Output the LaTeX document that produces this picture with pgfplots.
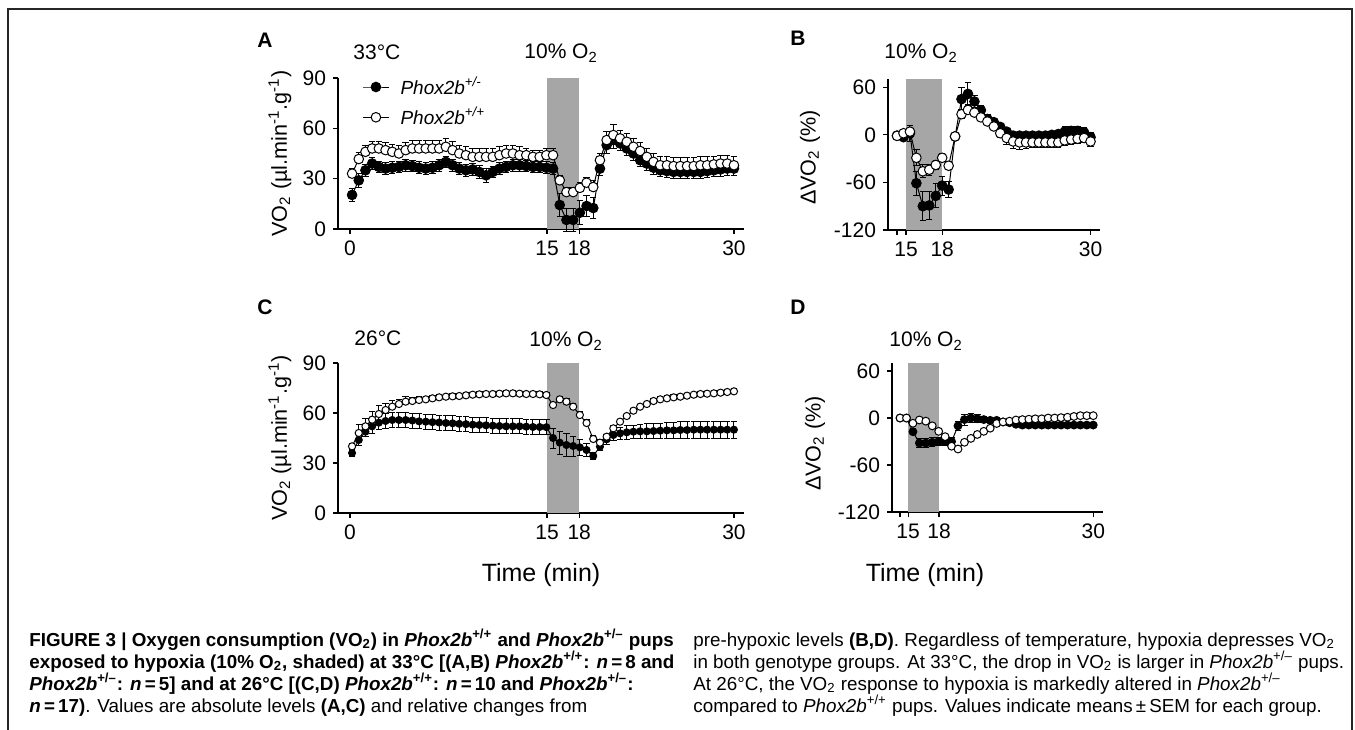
\documentclass[border=0pt]{standalone}
\usepackage{fontspec}
\setmainfont{Liberation Sans}
\usepackage{pgfplots}
\usepackage{pgfplotstable}
\pgfplotsset{compat=1.18}

% panel A: 33 C absolute VO2 (i = sample index)
\pgfplotstableread{
i f fe o oe
0 20.3 4 33 3
1 29 4 41.7 4
2 35 3.5 46 4
3 39 3.5 48 4
4 37 3.5 48 4
5 36 3.5 47 4.5
6 36.5 3.5 46 4.5
7 37 3.5 45 4.5
8 38 3.5 47 4.5
9 37.5 3.5 48 4.5
10 36.5 3.5 48 4.5
11 36 3.5 48 4.5
12 36.5 3.5 48 4.5
13 38 3.5 48 5
14 40 3.5 49 5
15 38 3.5 47 5
16 36 3.5 45 5
17 35 3.5 44 5
18 35.5 3.5 43 5
19 34 4 43 5
20 32 4 43 5
21 34 3.5 43 5
22 36 3.5 44 5
23 37 3.5 45 5
24 38 3.5 45 5
25 38 3.5 44 5
26 37.5 3.5 44 4
27 37 3.5 43 4
28 37 3.5 43 4
29 36.5 3.5 44 4
30 36 3.5 44 4
31 14.3 7 29 3
32 5.4 7 22 3
33 5.4 7 22 3
34 9.7 7 24.5 3
35 13.7 6 27.6 3
36 12.5 6 25 4
37 36 4 41 4
38 50 5 53 5
39 53 5 56 6
40 51 4 54 5
41 48 4 52 5
42 45 4 49 5
43 41 4 46.5 5
44 39 4 43 5
45 36.5 4 40 5
46 35 4 38 5
47 34.5 4 38 5
48 34 4 37.5 5
49 34 4 37.5 5
50 34 4 37.5 5
51 34 4 37.5 5
52 34 4 38 5
53 34.5 4 38 5
54 35 4 38.5 5
55 35.5 4 39 5
56 36 4 39 5
57 36 4 38 5
}\tabA

% panel B: 33 C relative change (%)
\pgfplotstableread{
i f fe o oe
0 -1 3 -1.3 3
1 -3 4 2 4
2 2 10 4 8
3 -61 15 -29 10
4 -90 18 -46 8
5 -89 18 -44 7
6 -77 15 -38 6
7 -64 12 -29 5
8 -69 10 -39 5
9 -2 5 -2 4
10 45 15 26 6
11 51.6 14 31.4 5
12 42 8 28 4
13 31 6 22 4
14 20 5 16.8 4
15 16 4 10.5 4
16 10 4 2 5
17 4 4 -4 8
18 -1 4 -8.4 9
19 -1 4 -9.6 9
20 -1 4 -9.6 8
21 -1 4 -9.6 7
22 -1 4 -9.6 7
23 -1 4 -9.6 7
24 0 4 -9.6 7
25 1 5 -9.6 7
26 4 6 -7 6
27 5 6 -6 6
28 5 6 -5 6
29 3 6 -4 6
30 -3 6 -8.4 6
}\tabB

% panel C: 26 C absolute VO2
\pgfplotstableread{
i f fe o oe
0 36 2 40 2
1 43.8 3 48 5
2 48.8 3 52 5
3 52 4 56 5
4 54.2 4 59.4 5
5 55.2 4.5 61.8 4
6 55.8 4.5 63.8 4
7 55.8 4.5 65.4 3
8 55.8 4.5 66.8 3
9 55.5 4.5 67.2 2
10 55 4.5 67.8 2
11 54.8 4.5 68.2 2
12 54.5 4.5 68.8 1.5
13 54.3 4.5 69.4 1.5
14 54 4.5 69.8 1.5
15 53.8 4.5 70 1.5
16 53.5 4.5 70.2 1.5
17 53.3 4.5 70.6 1.5
18 53 4.5 71 1.5
19 52.8 4.5 71.2 1.5
20 52.6 4.5 71.4 1.5
21 52.4 4.5 71.4 1.5
22 52.2 4.5 71.6 1.5
23 52 4.5 71.8 1.5
24 52 4.5 71.8 1.5
25 52 4.5 71.6 1.5
26 51.8 4.5 71.4 1.5
27 51.6 4.5 71.4 1.5
28 51.6 4.5 71.2 1.5
29 51.5 4.5 70.8 1.5
30 45 6 64.8 1.5
31 42.2 7 68.2 2
32 40.8 7 66.8 2
33 40.2 6 63.8 2
34 39.4 5 58.8 2
35 37.8 4 54 2
36 34.2 2 44.4 2
37 39.8 2 42.2 2
38 44.2 3 45.8 1.5
39 46.8 3 50.8 1.5
40 47.8 3.5 54.8 1.5
41 48.4 4 58.2 1.5
42 48.8 4 61.4 1.5
43 49 4 63.8 1.5
44 49 4.5 65.4 1.5
45 49.2 4.5 67.2 1.5
46 49.4 4.5 68.2 1.5
47 49.6 5 68.8 1.5
48 49.6 5 69.4 1.5
49 49.8 5 69.8 1.5
50 49.8 5 70.4 1.5
51 50 5 71 1.5
52 50 5 71.4 1.5
53 50 5 71.6 1.5
54 50 5 71.8 1.5
55 50 5 72.2 1.5
56 50 5 72.6 1.5
57 50 5 73 1.5
}\tabC

% panel D: 26 C relative change (%)
\pgfplotstableread{
i f fe o oe
0 0 1 0 1
1 0 1 0 1
2 -17.5 4 -6.7 2
3 -32 6 -2.5 2
4 -32 6 -4 2
5 -31 6 -10 2
6 -30 5 -17 2
7 -30 5 -23.8 2
8 -30 5 -36 2
9 -10 6 -39.6 2
10 -2 7 -31 2
11 0 6 -26 2
12 -1 5 -21 2
13 -2 4 -17 2
14 -3 3 -13 2
15 -3 3 -7 2
16 -5 3 -5 1
17 -6 3 -4 1
18 -8 2 -2.5 1
19 -9 2 -2 1
20 -9 2 -1.5 1
21 -9 2 -1 1
22 -9 2 -1 1
23 -9 2 0 1
24 -9 2 0 1
25 -9 2 0.5 1
26 -9 2 1 1
27 -9 2 2 1
28 -9 2 3 1
29 -9 2 3 1
30 -9 2 3 1
}\tabD

\newcommand{\tk}{\fontsize{10.5}{11}\selectfont}
\newcommand{\yl}{\fontsize{10.8}{11}\selectfont}
\newcommand{\cp}{\fontsize{9.4}{11}\selectfont}
\newcommand{\pb}{\textit{Phox2b}}
\newcommand{\Otwo}{O\textsubscript{2}}

\pgfplotsset{
  panel/.style={
    scale only axis, anchor=south west,
    axis x line*=bottom, axis y line*=left,
    axis line style={line width=0.6pt},
    tick align=outside, major tick length=2.5pt,
    tick style={black, line width=0.6pt},
    tick label style={font=\tk},
    /pgf/number format/assume math mode=true,
    clip=false,
  },
  filled/.style={black, line width=0.5pt, mark=*, mark size=#1,
    mark options={solid, fill=black, line width=0.5pt},
    error bars/y dir=both, error bars/y explicit,
    error bars/error bar style={line width=0.5pt},
    error bars/error mark options={rotate=90, mark size=1.6pt, line width=0.5pt}},
  open/.style={black, line width=0.5pt, mark=*, mark size=#1,
    mark options={solid, fill=white, line width=0.5pt},
    error bars/y dir=plus, error bars/y explicit,
    error bars/error bar style={line width=0.5pt},
    error bars/error mark options={rotate=90, mark size=1.6pt, line width=0.5pt}},
  band/.style={fill=gray!70, draw=none, forget plot},
}

\begin{document}
\begin{tikzpicture}[x=0.5pt,y=0.5pt]
\useasboundingbox (0,0) rectangle (1355,729);
\draw[line width=1pt, black!85] (8,-5) -- (8,720) -- (1352,720) -- (1352,-5);

% ---- A ----
\begin{axis}[panel, at={(169pt,250pt)}, width=203pt, height=75.5pt,
  xmin=-2.1, xmax=58.5, ymin=0, ymax=90,
  xtick={-0.3,29.1,33.9,57}, xticklabels={0,15,18,30},
  ytick={0,30,60,90},
  ylabel={VO\textsubscript{2} (µl.min\textsuperscript{-1}.g\textsuperscript{-1})},
  every axis y label/.style={at={(axis description cs:-0.143,0.5)}, rotate=90, anchor=center, font=\yl},
  legend cell align=left,
  legend style={draw=none, fill=none, at={(axis description cs:0.059,1.03)}, anchor=north west,
    inner sep=0pt, row sep=2pt, font=\fontsize{9.5}{10}\selectfont\itshape, nodes={inner sep=1.5pt},
    /tikz/every odd column/.append style={column sep=4pt}},
  legend image code/.code={\draw[mark repeat=2,mark phase=2] plot coordinates {(0cm,0cm) (0.23cm,0cm) (0.46cm,0cm)};},
]
\addplot[band] coordinates {(29.1,0) (29.1,90) (33.9,90) (33.9,0)} -- cycle;
\addplot[filled=2.4pt] table[x=i, y=f, y error=fe] {\tabA};
\addlegendentry{Phox2b\textsuperscript{+/-}}
\addplot[open=2.4pt] table[x=i, y=o, y error=oe] {\tabA};
\addlegendentry{Phox2b\textsuperscript{+/+}}
\end{axis}

% ---- B ----
\begin{axis}[panel, at={(444pt,249.5pt)}, width=106.1pt, height=75.35pt,
  xmin=-1.4, xmax=31.5, ymin=-120, ymax=70,
  xtick={0,1.4,7,30}, xticklabels={,15,18,30},
  ytick={-120,-60,0,60},
  ylabel={ΔVO\textsubscript{2} (\%)},
  every axis y label/.style={at={(axis description cs:-0.368,0.48)}, rotate=90, anchor=center, font=\yl},
]
\addplot[band] coordinates {(1.4,-120) (1.4,70) (7,70) (7,-120)} -- cycle;
\addplot[filled=2.4pt] table[x=i, y=f, y error=fe] {\tabB};
\addplot[open=2.4pt, error bars/y dir=both] table[x=i, y=o, y error=oe] {\tabB};
\end{axis}

% ---- C ----
\begin{axis}[panel, at={(169pt,108pt)}, width=203pt, height=75pt,
  xmin=-2.1, xmax=58.5, ymin=0, ymax=90,
  xtick={-0.3,29.1,33.9,57}, xticklabels={0,15,18,30},
  ytick={0,30,60,90},
  ylabel={VO\textsubscript{2} (µl.min\textsuperscript{-1}.g\textsuperscript{-1})},
  every axis y label/.style={at={(axis description cs:-0.143,0.5)}, rotate=90, anchor=center, font=\yl},
]
\addplot[band] coordinates {(29.1,0) (29.1,90) (33.9,90) (33.9,0)} -- cycle;
\addplot[filled=1.75pt] table[x=i, y=f, y error=fe] {\tabC};
\addplot[open=1.8pt] table[x=i, y=o, y error=oe] {\tabC};
\end{axis}

% ---- D ----
\begin{axis}[panel, at={(446pt,108.5pt)}, width=105.45pt, height=74.4pt,
  xmin=-1.25, xmax=31.5, ymin=-120, ymax=70,
  xtick={0,1.25,6.05,30}, xticklabels={,15,18,30},
  ytick={-120,-60,0,60},
  ylabel={ΔVO\textsubscript{2} (\%)},
  every axis y label/.style={at={(axis description cs:-0.365,0.46)}, rotate=90, anchor=center, font=\yl},
]
\addplot[band] coordinates {(1.25,-120) (1.25,70) (6.05,70) (6.05,-120)} -- cycle;
\addplot[filled=1.95pt] table[x=i, y=f, y error=fe] {\tabD};
\addplot[open=1.95pt, error bars/y dir=both] table[x=i, y=o, y error=oe] {\tabD};
\end{axis}

% panel letters and condition labels
\begin{scope}[every node/.style={anchor=base west, inner sep=0pt, font=\tk}]
\node[font=\tk\bfseries] at (257,681) {A};
\node at (353,669) {33°C};
\node at (524,670) {10\% \Otwo};
\node[font=\tk\bfseries] at (790,683) {B};
\node at (884,670) {10\% \Otwo};
\node[font=\tk\bfseries] at (257,414) {C};
\node at (354,383) {26°C};
\node at (529,382) {10\% \Otwo};
\node[font=\tk\bfseries] at (790,414) {D};
\node at (889,382) {10\% \Otwo};
\end{scope}
\node[anchor=base, font=\fontsize{12.5}{13}\selectfont] at (541,148) {Time (min)};
\node[anchor=base, font=\fontsize{12.5}{13}\selectfont] at (925,148) {Time (min)};

% caption
\begin{scope}[every node/.style={anchor=base west, inner sep=0pt, font=\cp}]
\node at (29,83) {\textbf{FIGURE 3 | Oxygen consumption (VO\textsubscript{2}) in \pb\textsuperscript{+/+} and \pb\textsuperscript{+/–} pups}};
\node at (29,61) {\textbf{exposed to hypoxia (10\% O\textsubscript{2}, shaded) at 33°C [(A,B) \pb\textsuperscript{+/+}: \textit{n}\,=\,8 and}};
\node at (29,39) {\textbf{\pb\textsuperscript{+/–}: \textit{n}\,=\,5] and at 26°C [(C,D) \pb\textsuperscript{+/+}: \textit{n}\,=\,10 and \pb\textsuperscript{+/–}:}};
\node at (29,17) {\textbf{\textit{n}\,=\,17)}. Values are absolute levels \textbf{(A,C)} and relative changes from};
\node at (693,83) {pre-hypoxic levels \textbf{(B,D)}. Regardless of temperature, hypoxia depresses VO\textsubscript{2}};
\node at (693,61) {in both genotype groups. At 33°C, the drop in VO\textsubscript{2} is larger in \pb\textsuperscript{+/–} pups.};
\node at (693,39) {At 26°C, the VO\textsubscript{2} response to hypoxia is markedly altered in \pb\textsuperscript{+/–}};
\node at (693,17) {compared to \pb\textsuperscript{+/+} pups. Values indicate means\,±\,SEM for each group.};
\end{scope}
\end{tikzpicture}
\end{document}
